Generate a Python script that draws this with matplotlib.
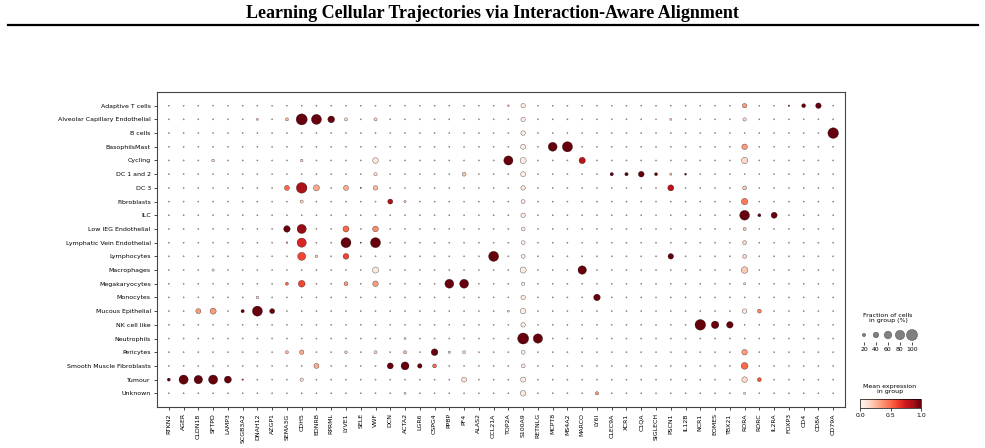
import numpy as np
import matplotlib
matplotlib.use("Agg")
import matplotlib.pyplot as plt
from matplotlib.lines import Line2D
from matplotlib.cm import ScalarMappable
from matplotlib.colors import Normalize

title = "Learning Cellular Trajectories via Interaction-Aware Alignment"

genes = ["RTKN2", "AGER", "CLDN18", "SFTPD", "LAMP3", "SCGB3A2", "DNAH12", "AZGP1",
         "SEMA3G", "CDH5", "EDNRB", "RPRML", "LYVE1", "SELE", "VWF", "DCN", "ACTA2",
         "LGR6", "CSPG4", "PPBP", "PF4", "ALAS2", "CCL21A", "TOP2A", "S100A9", "RETNLG",
         "MCPT8", "MS4A2", "MARCO", "LY6I", "CLEC9A", "XCR1", "C1QA", "SIGLECH", "PSCN1",
         "IL12B", "NCR1", "EOMES", "TBX21", "RORA", "RORC", "IL2RA", "FOXP3", "CD4",
         "CD8A", "CD79A"]

groups = ["Adaptive T cells", "Alveolar Capillary Endothelial", "B cells", "BasophilsMast",
          "Cycling", "DC 1 and 2", "DC 3", "Fibroblasts", "ILC", "Low IEG Endothelial",
          "Lymphatic Vein Endothelial", "Lymphocytes", "Macrophages", "Megakaryocytes",
          "Monocytes", "Mucous Epithelial", "NK cell like", "Neutrophils", "Pericytes",
          "Smooth Muscle Fibroblasts", "Tumour", "Unknown"]

# cells not listed below: barely expressed
background_frac = 0.05
background_expr = 0.12

# (group, gene, fraction of cells, mean expression)
dots = [
    ("Adaptive T cells", "TOP2A", 0.08, 0.3), ("Adaptive T cells", "S100A9", 0.3, 0.05),
    ("Adaptive T cells", "RORA", 0.3, 0.35), ("Adaptive T cells", "FOXP3", 0.07, 0.9),
    ("Adaptive T cells", "CD4", 0.25, 1.0), ("Adaptive T cells", "CD8A", 0.4, 1.0),
    ("Alveolar Capillary Endothelial", "DNAH12", 0.1, 0.3),
    ("Alveolar Capillary Endothelial", "SEMA3G", 0.18, 0.25),
    ("Alveolar Capillary Endothelial", "CDH5", 1.0, 1.0),
    ("Alveolar Capillary Endothelial", "EDNRB", 0.88, 1.0),
    ("Alveolar Capillary Endothelial", "RPRML", 0.52, 1.0),
    ("Alveolar Capillary Endothelial", "LYVE1", 0.18, 0.15),
    ("Alveolar Capillary Endothelial", "VWF", 0.18, 0.15),
    ("Alveolar Capillary Endothelial", "S100A9", 0.3, 0.05),
    ("Alveolar Capillary Endothelial", "RORA", 0.2, 0.15),
    ("Alveolar Capillary Endothelial", "PSCN1", 0.1, 0.2),
    ("B cells", "S100A9", 0.3, 0.05), ("B cells", "CD79A", 0.95, 1.0),
    ("BasophilsMast", "S100A9", 0.35, 0.07), ("BasophilsMast", "MCPT8", 0.75, 1.0),
    ("BasophilsMast", "MS4A2", 0.9, 1.0), ("BasophilsMast", "RORA", 0.4, 0.35),
    ("Cycling", "SFTPD", 0.15, 0.15), ("Cycling", "CDH5", 0.15, 0.15),
    ("Cycling", "VWF", 0.4, 0.08), ("Cycling", "TOP2A", 0.78, 1.0),
    ("Cycling", "S100A9", 0.45, 0.05), ("Cycling", "MARCO", 0.48, 0.8),
    ("Cycling", "RORA", 0.48, 0.15),
    ("DC 1 and 2", "VWF", 0.2, 0.1), ("DC 1 and 2", "PF4", 0.25, 0.2),
    ("DC 1 and 2", "S100A9", 0.35, 0.05), ("DC 1 and 2", "CLEC9A", 0.2, 1.0),
    ("DC 1 and 2", "XCR1", 0.2, 1.0), ("DC 1 and 2", "C1QA", 0.42, 1.0),
    ("DC 1 and 2", "SIGLECH", 0.18, 1.0), ("DC 1 and 2", "PSCN1", 0.12, 0.2),
    ("DC 1 and 2", "IL12B", 0.1, 1.0),
    ("DC 3", "SEMA3G", 0.35, 0.5), ("DC 3", "CDH5", 0.95, 0.85),
    ("DC 3", "EDNRB", 0.45, 0.3), ("DC 3", "LYVE1", 0.35, 0.3),
    ("DC 3", "SELE", 0.05, 1.0), ("DC 3", "VWF", 0.3, 0.25),
    ("DC 3", "S100A9", 0.3, 0.08), ("DC 3", "PSCN1", 0.45, 0.8),
    ("DC 3", "RORA", 0.25, 0.2),
    ("Fibroblasts", "CDH5", 0.18, 0.15), ("Fibroblasts", "DCN", 0.35, 0.85),
    ("Fibroblasts", "ACTA2", 0.12, 0.2), ("Fibroblasts", "S100A9", 0.25, 0.05),
    ("Fibroblasts", "RORA", 0.48, 0.45),
    ("ILC", "S100A9", 0.3, 0.05), ("ILC", "RORA", 0.85, 1.0),
    ("ILC", "RORC", 0.18, 1.0), ("ILC", "IL2RA", 0.45, 1.0),
    ("Low IEG Endothelial", "SEMA3G", 0.5, 1.0), ("Low IEG Endothelial", "CDH5", 0.78, 0.9),
    ("Low IEG Endothelial", "LYVE1", 0.45, 0.5), ("Low IEG Endothelial", "VWF", 0.42, 0.4),
    ("Low IEG Endothelial", "S100A9", 0.25, 0.05), ("Low IEG Endothelial", "RORA", 0.18, 0.2),
    ("Lymphatic Vein Endothelial", "SEMA3G", 0.08, 0.4),
    ("Lymphatic Vein Endothelial", "CDH5", 0.78, 0.7),
    ("Lymphatic Vein Endothelial", "LYVE1", 0.88, 1.0),
    ("Lymphatic Vein Endothelial", "SELE", 0.05, 1.0),
    ("Lymphatic Vein Endothelial", "VWF", 0.88, 1.0),
    ("Lymphatic Vein Endothelial", "S100A9", 0.25, 0.05),
    ("Lymphatic Vein Endothelial", "RORA", 0.25, 0.15),
    ("Lymphocytes", "CDH5", 0.65, 0.6), ("Lymphocytes", "EDNRB", 0.15, 0.15),
    ("Lymphocytes", "LYVE1", 0.42, 0.6), ("Lymphocytes", "CCL21A", 0.88, 1.0),
    ("Lymphocytes", "S100A9", 0.25, 0.05), ("Lymphocytes", "PSCN1", 0.4, 1.0),
    ("Lymphocytes", "RORA", 0.25, 0.15),
    ("Macrophages", "SFTPD", 0.12, 0.1), ("Macrophages", "VWF", 0.45, 0.08),
    ("Macrophages", "S100A9", 0.45, 0.05), ("Macrophages", "MARCO", 0.7, 1.0),
    ("Macrophages", "RORA", 0.5, 0.2),
    ("Megakaryocytes", "SEMA3G", 0.18, 0.5), ("Megakaryocytes", "CDH5", 0.52, 0.6),
    ("Megakaryocytes", "LYVE1", 0.25, 0.35), ("Megakaryocytes", "VWF", 0.4, 0.35),
    ("Megakaryocytes", "PPBP", 0.75, 1.0), ("Megakaryocytes", "PF4", 0.75, 1.0),
    ("Megakaryocytes", "S100A9", 0.2, 0.05), ("Megakaryocytes", "RORA", 0.12, 0.1),
    ("Monocytes", "DNAH12", 0.15, 0.15), ("Monocytes", "S100A9", 0.3, 0.05),
    ("Monocytes", "LY6I", 0.5, 1.0),
    ("Mucous Epithelial", "CLDN18", 0.35, 0.35), ("Mucous Epithelial", "SFTPD", 0.45, 0.35),
    ("Mucous Epithelial", "SCGB3A2", 0.2, 1.0), ("Mucous Epithelial", "DNAH12", 0.88, 1.0),
    ("Mucous Epithelial", "AZGP1", 0.35, 1.0), ("Mucous Epithelial", "TOP2A", 0.1, 0.15),
    ("Mucous Epithelial", "S100A9", 0.4, 0.05), ("Mucous Epithelial", "RORA", 0.3, 0.08),
    ("Mucous Epithelial", "RORC", 0.25, 0.4),
    ("NK cell like", "S100A9", 0.3, 0.05), ("NK cell like", "NCR1", 0.95, 1.0),
    ("NK cell like", "EOMES", 0.6, 1.0), ("NK cell like", "TBX21", 0.5, 1.0),
    ("Neutrophils", "ACTA2", 0.1, 0.15), ("Neutrophils", "S100A9", 1.0, 1.0),
    ("Neutrophils", "RETNLG", 0.8, 1.0),
    ("Pericytes", "SEMA3G", 0.18, 0.25), ("Pericytes", "CDH5", 0.3, 0.3),
    ("Pericytes", "LYVE1", 0.15, 0.2), ("Pericytes", "VWF", 0.18, 0.15),
    ("Pericytes", "ACTA2", 0.18, 0.25), ("Pericytes", "CSPG4", 0.52, 1.0),
    ("Pericytes", "PPBP", 0.12, 0.2), ("Pericytes", "PF4", 0.18, 0.15),
    ("Pericytes", "S100A9", 0.25, 0.05), ("Pericytes", "RORA", 0.4, 0.35),
    ("Smooth Muscle Fibroblasts", "EDNRB", 0.35, 0.3),
    ("Smooth Muscle Fibroblasts", "DCN", 0.45, 1.0),
    ("Smooth Muscle Fibroblasts", "ACTA2", 0.65, 1.0),
    ("Smooth Muscle Fibroblasts", "LGR6", 0.3, 1.0),
    ("Smooth Muscle Fibroblasts", "CSPG4", 0.25, 0.5),
    ("Smooth Muscle Fibroblasts", "S100A9", 0.25, 0.05),
    ("Smooth Muscle Fibroblasts", "RORA", 0.52, 0.5),
    ("Tumour", "RTKN2", 0.18, 1.0), ("Tumour", "AGER", 0.78, 1.0),
    ("Tumour", "CLDN18", 0.7, 1.0), ("Tumour", "SFTPD", 0.78, 1.0),
    ("Tumour", "LAMP3", 0.55, 1.0), ("Tumour", "SCGB3A2", 0.07, 0.7),
    ("Tumour", "CDH5", 0.2, 0.1), ("Tumour", "PF4", 0.35, 0.1),
    ("Tumour", "S100A9", 0.35, 0.05), ("Tumour", "RORA", 0.4, 0.15),
    ("Tumour", "RORC", 0.25, 0.55),
    ("Unknown", "ACTA2", 0.1, 0.15), ("Unknown", "S100A9", 0.4, 0.08),
    ("Unknown", "LY6I", 0.2, 0.35), ("Unknown", "RORA", 0.12, 0.1),
]

size_legend = [0.2, 0.4, 0.6, 0.8, 1.0]
size_labels = ["20", "40", "60", "80", "100"]

frac = np.full((len(groups), len(genes)), background_frac)
expr = np.full((len(groups), len(genes)), background_expr)
for g, gene, f, e in dots:
    frac[groups.index(g), genes.index(gene)] = f
    expr[groups.index(g), genes.index(gene)] = e

largest_dot = 63.0
W, H = 985, 448
fig = plt.figure(figsize=(W / 100, H / 100), dpi=100)

fig.text(0.5, 1 - 14 / H, title, ha="center", va="center", fontsize=13,
         fontweight="bold", family="Liberation Serif")
fig.add_artist(Line2D([8 / W, 978 / W], [1 - 25 / H, 1 - 25 / H], color="black", lw=1.6))

ax = fig.add_axes([157 / W, 1 - 407 / H, 688 / W, 315 / H])
yy, xx = np.meshgrid(np.arange(len(groups)), np.arange(len(genes)), indexing="ij")
ax.scatter(xx.ravel(), yy.ravel(), s=frac.ravel() ** 1.5 * largest_dot, c=expr.ravel(),
           cmap="Reds", vmin=0, vmax=1, edgecolor="black", linewidth=0.2)
ax.set_xlim(-0.8, len(genes) - 1 + 0.8)
ax.set_ylim(len(groups), -1)
ax.set_xticks(range(len(genes)))
ax.set_xticklabels(genes, rotation=90, fontsize=4.5)
ax.set_yticks(range(len(groups)))
ax.set_yticklabels(groups, fontsize=4.5)
ax.tick_params(length=2.5, width=0.5, pad=2)
for sp in ax.spines.values():
    sp.set_linewidth(0.8)
    sp.set_color("#444444")

# size legend
sax = fig.add_axes([858 / W, 1 - 342 / H, 60 / W, 14 / H])
sax.scatter(range(len(size_legend)), [0] * len(size_legend),
            s=np.array(size_legend) ** 1.5 * largest_dot, color="gray",
            edgecolor="black", linewidth=0.2, zorder=100)
sax.set_xlim(-0.5, len(size_legend) - 0.5)
sax.set_ylim(-1, 1)
sax.set_xticks(range(len(size_legend)))
sax.set_xticklabels(size_labels, fontsize=4.4)
sax.tick_params(axis="x", length=2, width=0.5, pad=1.5)
sax.tick_params(axis="y", left=False, labelleft=False)
for sp in sax.spines.values():
    sp.set_visible(False)
fig.text(888 / W, 1 - 318 / H, "Fraction of cells\nin group (%)", ha="center",
         va="center", fontsize=4.5, linespacing=1.1)

# colorbar
cax = fig.add_axes([860 / W, 1 - 408 / H, 61 / W, 9 / H])
cb = fig.colorbar(ScalarMappable(norm=Normalize(0, 1), cmap="Reds"), cax=cax,
                  orientation="horizontal")
cb.set_ticks([0.0, 0.5, 1.0])
cb.ax.tick_params(labelsize=4.4, length=2, width=0.5, pad=1.5)
cb.outline.set_linewidth(0.5)
fig.text(890 / W, 1 - 389 / H, "Mean expression\nin group", ha="center", va="center",
         fontsize=4.5, linespacing=1.1)

fig.savefig("out.png", dpi=100)
